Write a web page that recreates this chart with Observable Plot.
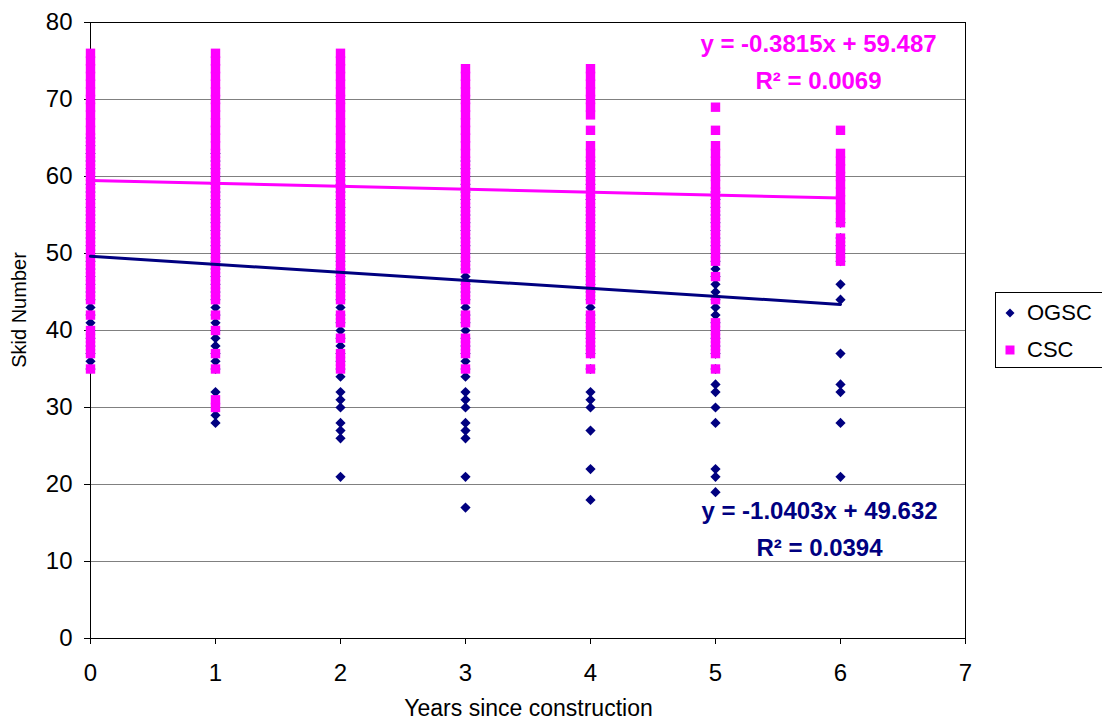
<!DOCTYPE html>
<html>
<head>
<meta charset="utf-8">
<script src="https://cdn.jsdelivr.net/npm/d3@7"></script>
<script src="https://cdn.jsdelivr.net/npm/@observablehq/plot@0.6"></script>
<style>
  html, body { margin: 0; padding: 0; background: #fff; overflow: hidden; }
  #wrap { position: relative; width: 1102px; height: 723px; }
  #legend { position: absolute; left: 995px; top: 292px; }
</style>
</head>
<body>
<div id="wrap"><div id="chart"></div><div id="legend"></div></div>
<script>
// ---- Data ----
const years = [0, 1, 2, 3, 4, 5, 6];
const xTicks = [0, 1, 2, 3, 4, 5, 6, 7];
const yTicks = [0, 10, 20, 30, 40, 50, 60, 70, 80];
const seriesNames = ["OGSC", "CSC"];
const seriesColors = ["#000080", "#FF00FF"];

// OGSC skid numbers per year since construction
const ogsc0 = [35,36,37,38,39,40,41,42,43,44,45,46,47,48,49,50,51,52,53,54,55,56,57,58,59,60,61,62,63,64,65];
const ogsc1 = [28,29,32,35,36,37,38,39,40,41,42,43,44,45,46,47,48,49,50,51,52,53,54,55,56,57,58,59,60,61,62,63];
const ogsc2 = [21,26,27,28,30,31,32,34,35,36,37,38,39,40,41,42,43,44,45,46,47,48,49,50,51,52,53,54,55,56,57,58,59,60,61,62,63];
const ogsc3 = [17,21,26,27,28,30,31,32,34,35,36,37,38,39,40,41,42,43,44,45,46,47,48,49,50,51,52,53,54,55,56,57,58,59,60,61,62];
const ogsc4 = [18,22,27,30,31,32,35,37,38,39,40,41,42,43,44,45,46,47,48,49,50,51,52,53,54,55,56,57,58,59,60,61,62];
const ogsc5 = [19,21,22,28,30,32,33,35,37,38,39,40,41,42,43,44,45,46,47,48,49,50,51,52,53,54,55,56,57,58];
const ogsc6 = [21,28,32,33,37,44,46,49,50,51,52,54];

// CSC skid numbers per year since construction
const csc0 = [35,37,38,39,40,42,44,45,46,47,48,49,50,51,52,53,54,55,56,57,58,59,60,61,62,63,64,65,66,67,68,69,70,71,72,73,74,75,76];
const csc1 = [30,31,35,37,40,42,44,45,46,47,48,49,50,51,52,53,54,55,56,57,58,59,60,61,62,63,64,65,66,67,68,69,70,71,72,73,74,75,76];
const csc2 = [35,36,37,39,41,42,44,45,46,47,48,49,50,51,52,53,54,55,56,57,58,59,60,61,62,63,64,65,66,67,68,69,70,71,72,73,74,75,76];
const csc3 = [35,37,38,39,41,42,44,45,46,48,49,50,51,52,53,54,55,56,57,58,59,60,61,62,63,64,65,66,67,68,69,70,71,72,73,74];
const csc4 = [35,37,38,39,40,41,42,44,45,46,47,48,49,50,51,52,53,54,55,56,57,58,59,60,61,62,63,64,66,68,69,70,71,72,73,74];
const csc5 = [35,37,38,39,40,41,44,47,49,50,51,52,53,54,55,56,57,58,59,60,61,62,63,64,66,69];
const csc6 = [49,50,51,52,54,55,56,57,58,59,60,61,62,63,66];

// Linear trend lines as printed on the chart
const trendX = [0, 6];
const ogscSlope = -1.0403, ogscIntercept = 49.632;
const cscSlope = -0.3815, cscIntercept = 59.487;
const ogscEquation = "y = -1.0403x + 49.632\nR\u00B2 = 0.0394";
const cscEquation = "y = -0.3815x + 59.487\nR\u00B2 = 0.0069";
const xTitle = "Years since construction";
const yTitle = "Skid Number";

// ---- Build tables ----
const toRows = (series, lists) => lists.flatMap((vals, i) => vals.map(v => ({series, year: years[i], skid: v})));
const ogscData = toRows(seriesNames[0], [ogsc0, ogsc1, ogsc2, ogsc3, ogsc4, ogsc5, ogsc6]);
const cscData = toRows(seriesNames[1], [csc0, csc1, csc2, csc3, csc4, csc5, csc6]);

const FONT = "'Liberation Sans', Arial, Helvetica, sans-serif";

const chart = Plot.plot({
  width: 1102,
  height: 723,
  marginLeft: 90,
  marginRight: 137,
  marginTop: 22,
  marginBottom: 85,
  style: {fontFamily: FONT, fontSize: "24px", color: "#000", background: "#fff"},
  x: {domain: [0, 7], label: null},
  y: {domain: [0, 80], label: null},
  marks: [
    Plot.gridY(yTicks, {stroke: "#808080", strokeOpacity: 1, strokeWidth: 1}),
    Plot.frame({stroke: "#000"}),
    Plot.axisX(xTicks, {tickSize: 6, tickPadding: 19, label: null, fontSize: 24, stroke: "#000", tickFormat: d3.format("d")}),
    Plot.axisY(yTicks, {tickSize: 6, tickPadding: 12, label: null, fontSize: 24, stroke: "#000", tickFormat: d3.format("d")}),
    Plot.dot(ogscData, {x: "year", y: "skid", symbol: "diamond2", r: 4.6, fill: seriesColors[0], stroke: "none"}),
    Plot.dot(cscData, {x: "year", y: "skid", symbol: "square", r: 5.3, fill: seriesColors[1], stroke: "none"}),
    Plot.line(trendX, {x: d => d, y: d => cscSlope * d + cscIntercept, stroke: seriesColors[1], strokeWidth: 3}),
    Plot.line(trendX, {x: d => d, y: d => ogscSlope * d + ogscIntercept, stroke: seriesColors[0], strokeWidth: 3}),
    Plot.text([cscEquation], {text: d => d, frameAnchor: "top-right", dx: -147, dy: 66, lineAnchor: "bottom", lineHeight: 1.525, textAnchor: "middle", fontSize: 24, fontWeight: "bold", fill: seriesColors[1]}),
    Plot.text([ogscEquation], {text: d => d, frameAnchor: "top-right", dx: -146, dy: 533, lineAnchor: "bottom", lineHeight: 1.525, textAnchor: "middle", fontSize: 24, fontWeight: "bold", fill: seriesColors[0]}),
    Plot.text([xTitle], {text: d => d, frameAnchor: "bottom", dx: 0.5, dy: 77, lineAnchor: "bottom", textAnchor: "middle", fontSize: 23, fill: "#000"}),
    Plot.text([yTitle], {text: d => d, frameAnchor: "left", dx: -65, dy: -20.5, rotate: -90, lineAnchor: "bottom", textAnchor: "middle", fontSize: 20, fill: "#000"})
  ]
});
document.getElementById("chart").appendChild(chart);

// ---- Legend ----
const lg = d3.select("#legend").append("svg")
  .attr("width", 107).attr("height", 77)
  .style("display", "block").style("overflow", "visible");
lg.append("rect").attr("x", 0.5).attr("y", 0.5).attr("width", 130).attr("height", 75)
  .attr("fill", "#fff").attr("stroke", "#000");
const legendRows = seriesNames.map((name, i) => ({name, color: seriesColors[i], symbol: i === 0 ? d3.symbolDiamond2 : d3.symbolSquare, size: i === 0 ? 52 : 81, cy: i === 0 ? 21 : 58}));
const item = lg.selectAll("g.item").data(legendRows).join("g").attr("class", "item");
item.append("path")
  .attr("transform", d => `translate(15,${d.cy})`)
  .attr("d", d => d3.symbol(d.symbol, d.size)())
  .attr("fill", d => d.color);
item.append("text")
  .attr("x", 32).attr("y", d => d.cy + 6.5)
  .attr("font-family", FONT).attr("font-size", 22).attr("fill", "#000")
  .text(d => d.name);
</script>
</body>
</html>
